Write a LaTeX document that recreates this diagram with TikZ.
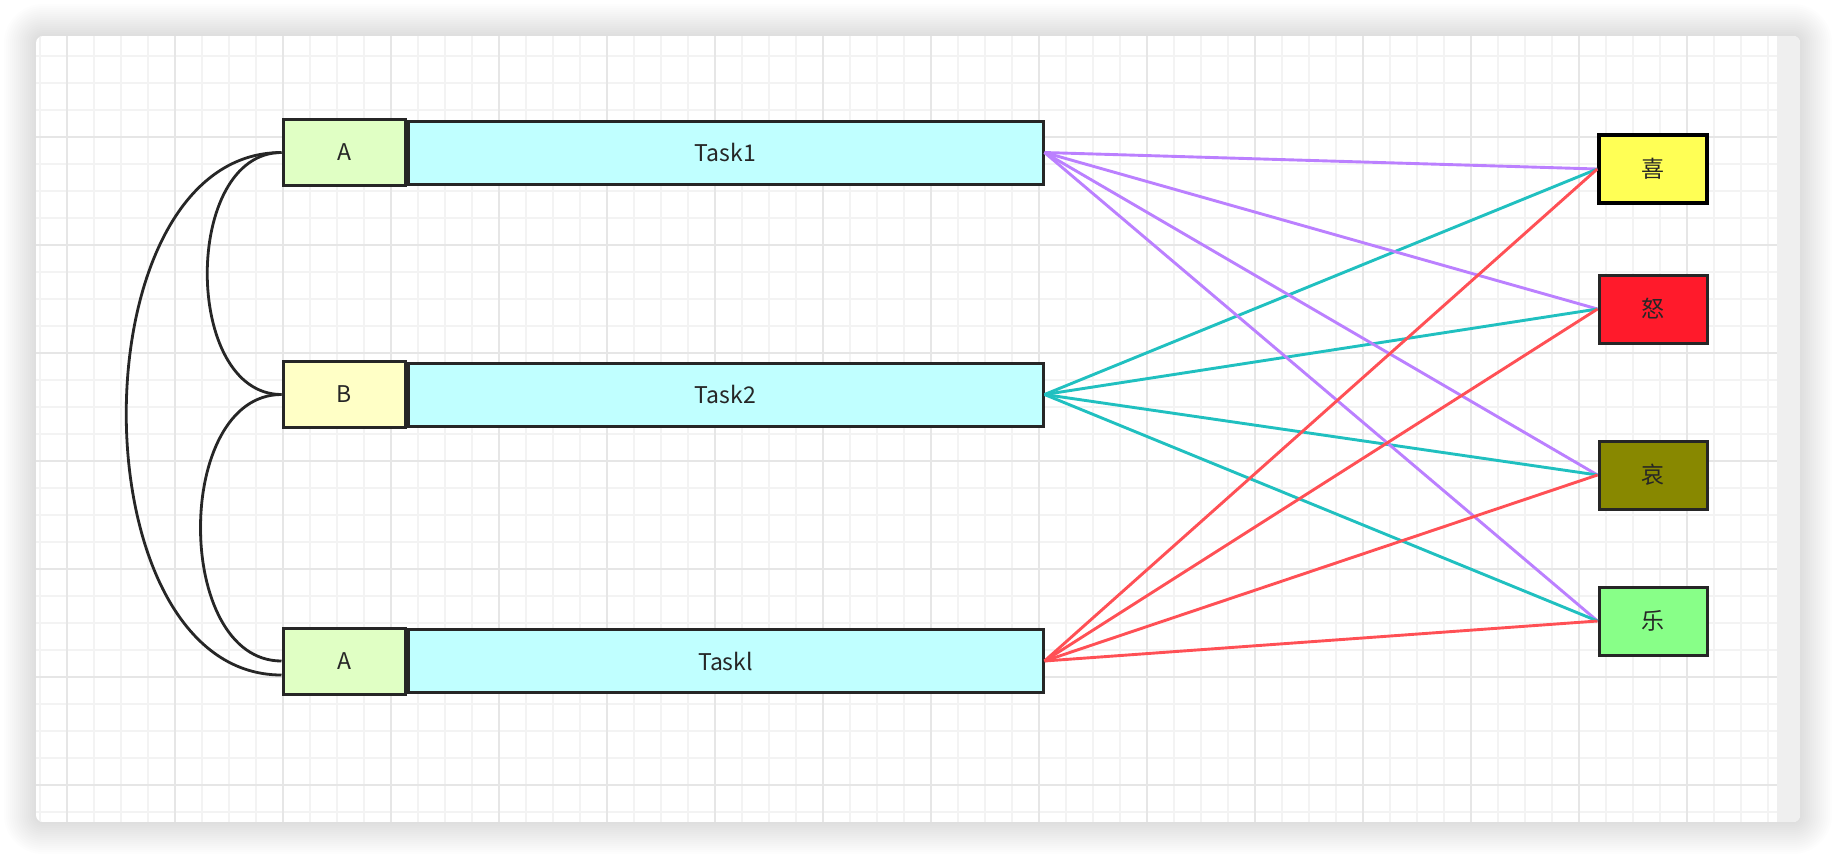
\documentclass[tikz,border=0pt]{standalone}
\usepackage{fontspec}
\setmainfont{Noto Sans CJK SC}
\usetikzlibrary{positioning}

\definecolor{gridminor}{HTML}{F3F3F3}
\definecolor{gridmajor}{HTML}{E6E6E6}
\definecolor{gridstrip}{HTML}{EFEFEF}
\definecolor{ink}{HTML}{262626}
\definecolor{keyA}{HTML}{E0FFC4}
\definecolor{keyB}{HTML}{FFFFC6}
\definecolor{taskcyan}{HTML}{C0FFFF}
\definecolor{joy}{HTML}{FFFF55}
\definecolor{anger}{HTML}{FF1A2B}
\definecolor{grief}{HTML}{888800}
\definecolor{glee}{HTML}{88FF88}
\definecolor{linkP}{HTML}{BB80FF}
\definecolor{linkT}{HTML}{20C0C0}
\definecolor{linkR}{HTML}{FF5055}

\begin{document}
\begin{tikzpicture}[x=0.5pt,y=-0.5pt,node distance=0pt,
        cell/.style={draw=ink,line width=1.5pt,inner sep=0pt,text=ink,
          font=\fontsize{11.5}{14}\selectfont},
        keycell/.style={cell,minimum width=61pt,minimum height=33pt},
        task/.style={cell,minimum width=317.5pt,minimum height=31.5pt},
        mood/.style={cell,minimum width=54pt,minimum height=34pt},
        link/.style={line width=1.45pt},
        loopline/.style={draw=ink,line width=1.4pt}]

  \useasboundingbox (0,0) rectangle (1836,858);

  % canvas with shadow
  \foreach \i [evaluate=\i as \r using 3.5+\i] in {1,...,16}
    \fill[black,fill opacity=0.009,rounded corners=\r pt]
      (36-2*\i,36-2*\i) rectangle (1800+2*\i,822+2*\i);
  \begin{scope}
    \clip[rounded corners=3.5pt] (36,36) rectangle (1800,822);
    \fill[white] (36,36) rectangle (1800,822);
    \foreach \gx in {40,67,...,1777}
      \draw[gridminor,line width=0.6pt] (\gx,36) -- (\gx,822);
    \foreach \gy in {56,83,...,822}
      \draw[gridminor,line width=0.6pt] (36,\gy) -- (1777,\gy);
    \foreach \gx in {67,175,...,1777}
      \draw[gridmajor,line width=0.6pt] (\gx,36) -- (\gx,822);
    \foreach \gy in {137,245,...,822}
      \draw[gridmajor,line width=0.6pt] (36,\gy) -- (1777,\gy);
    \fill[gridstrip] (1777,36) rectangle (1800,822);
  \end{scope}

  % tasks
  \node[keycell,fill=keyA] (a1) at (344,152.5) {A};
  \node[task,fill=taskcyan,right=of a1] (t1) {Task1};
  \node[keycell,fill=keyB] (b2) at (344,394.5) {B};
  \node[task,fill=taskcyan,right=of b2] (t2) {Task2};
  \node[keycell,fill=keyA] (a3) at (344,661) {A};
  \node[task,fill=taskcyan,right=of a3] (t3) {Taskl};

  % moods
  \node[mood,fill=joy,draw=black,line width=1.75pt] (xi) at (1653,169) {喜};
  \node[mood,fill=anger] (nu) at (1653,309) {怒};
  \node[mood,fill=grief] (ai) at (1653,475) {哀};
  \node[mood,fill=glee] (le) at (1653,621) {乐};

  \foreach \m in {xi,nu,ai,le}
    \path[link] (t1.east) edge[linkP] (\m.west)
                (t2.east) edge[linkT] (\m.west);
  \foreach \m in {xi,nu,ai,le}
    \path[link] (t3.east) edge[linkR] (\m.west);

  \draw[loopline] (a1.west) .. controls +(-99,0) and +(-99,0) .. (b2.west);
  \draw[loopline] (b2.west) .. controls +(-108,0) and +(-108,0) .. (a3.west);
  \draw[loopline] (a1.west) .. controls +(-207,0) and +(-207,0) .. ([yshift=-7pt]a3.west);

\end{tikzpicture}
\end{document}
